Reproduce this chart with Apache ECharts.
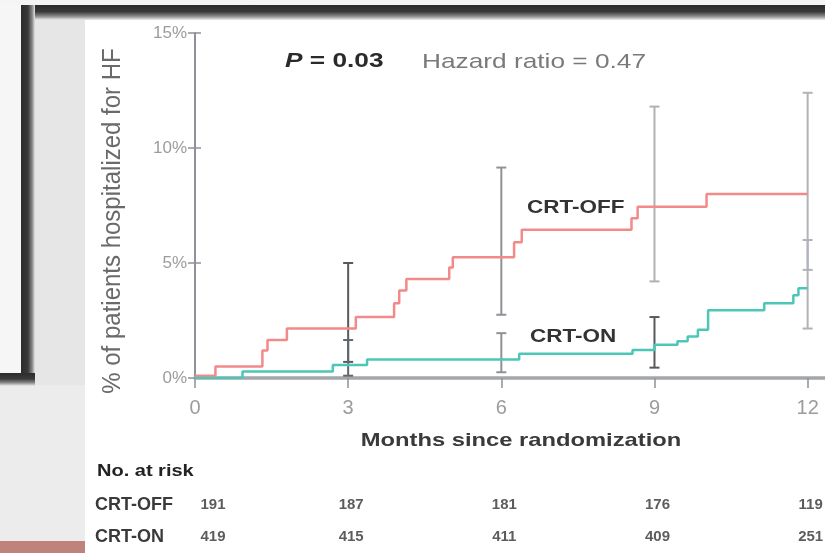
<!DOCTYPE html>
<html><head><meta charset="utf-8">
<script src="https://cdn.jsdelivr.net/npm/echarts@6/dist/echarts.min.js"></script>
<style>
html,body{margin:0;padding:0;background:#ececec;overflow:hidden}
.b{position:absolute}
#c{position:absolute;left:0;top:0;width:825px;height:553px}
</style>
</head><body>
<div class="b" style="left:0;top:0;width:825px;height:5px;background:#f5f5f5"></div>
<div class="b" style="left:85px;top:18px;width:740px;height:535px;background:#fff"></div>
<div class="b" style="left:35px;top:18px;width:50px;height:367px;background:#e6e6e6"></div>
<div class="b" style="left:0;top:5px;width:21px;height:368px;background:#f6f6f6"></div>
<div class="b" style="left:21px;top:5px;width:804px;height:15px;background:linear-gradient(to bottom,#2c2c2c 0%,#3a3a3a 45%,#8a8a8a 75%,#ececec 100%)"></div>
<div class="b" style="left:21px;top:5px;width:14px;height:380px;background:linear-gradient(to right,#2c2c2c 0%,#3a3a3a 50%,#8a8a8a 80%,#e6e6e6 100%)"></div>
<div class="b" style="left:0;top:373px;width:35px;height:13px;background:linear-gradient(to bottom,#2c2c2c 0%,#3a3a3a 45%,#8a8a8a 75%,#ececec 100%)"></div>
<div class="b" style="left:0;top:541px;width:85px;height:12px;background:#c0837c"></div>
<div id="c"></div>
<script>
// ---- data ----
const xTicks = [0, 3, 6, 9, 12];
const yTicks = [0, 5, 10, 15];
const offMonths = [0, 0.4, 1.32, 1.42, 1.8, 3.15, 3.9, 4.0, 4.14, 4.98, 5.05, 6.25, 6.4, 8.55, 8.67, 10.02, 12];
const offValues = [0.1, 0.5, 1.2, 1.65, 2.15, 2.65, 3.25, 3.8, 4.3, 4.8, 5.25, 5.9, 6.45, 6.95, 7.45, 8.0, 8.0];
const onMonths = [0, 0.93, 2.7, 3.37, 6.35, 8.57, 9.0, 9.45, 9.65, 9.85, 10.05, 11.15, 11.72, 11.82, 12];
const onValues = [0, 0.28, 0.57, 0.8, 1.05, 1.22, 1.45, 1.6, 1.8, 2.1, 2.95, 3.25, 3.6, 3.9, 3.9];
const ciMonths = [3, 6, 9, 12];
const offCiLow = [0.7, 2.75, 4.2, 4.7];
const offCiHigh = [5.0, 9.15, 11.8, 12.4];
const onCiLow = [0.1, 0.25, 0.45, 2.15];
const onCiHigh = [1.65, 1.95, 2.65, 6.0];
const riskMonths = [0, 3, 6, 9, 12];
const riskOff = [191, 187, 181, 176, 119];
const riskOn = [419, 415, 411, 409, 251];
const groups = ['CRT-ON', 'CRT-OFF'];

// ---- style ----
const FONT = '"Liberation Sans", Arial, Helvetica, sans-serif';
const OFF_BAR_COLORS = ['#555a5e', '#8e9296', '#aeb2b6', '#b0b4b8'];
const ON_BAR_COLORS = ['#62676b', '#8e9296', '#55595d', '#b0b4b8'];

function errRender(colors) {
  return function (params, api) {
    const x = api.value(0), lo = api.value(1), hi = api.value(2);
    const top = api.coord([x, hi]), bot = api.coord([x, lo]);
    const st = { stroke: colors[params.dataIndex], lineWidth: 2 };
    const hw = 5;
    return { type: 'group', children: [
      { type: 'line', shape: { x1: top[0], y1: top[1], x2: bot[0], y2: bot[1] }, style: st },
      { type: 'line', shape: { x1: top[0] - hw, y1: top[1], x2: top[0] + hw, y2: top[1] }, style: st },
      { type: 'line', shape: { x1: bot[0] - hw, y1: bot[1], x2: bot[0] + hw, y2: bot[1] }, style: st }
    ]};
  };
}

function riskData(name, vals) {
  return riskMonths.map((m, i) => ({ value: [m, name, vals[i]], label: { offset: [i === 0 ? 18 : 3, 0] } }));
}

const chart = echarts.init(document.getElementById('c'), null, { renderer: 'canvas' });
chart.setOption({
  animation: false,
  backgroundColor: 'transparent',
  grid: [
    { left: 195, right: 0, top: 33, bottom: 175 },
    { left: 195, right: 0, top: 489, bottom: 0 }
  ],
  xAxis: [
    { type: 'value', gridIndex: 0, min: 0, max: 12.34, interval: 3,
      axisLine: { show: true, onZero: false, lineStyle: { color: '#a4a7aa', width: 3.5 } },
      axisTick: { show: true, length: 10, customValues: xTicks, lineStyle: { color: '#8e9297', width: 1.5 } },
      axisLabel: { customValues: xTicks, margin: 20, fontSize: 20, color: '#9c9c9c', fontFamily: FONT },
      splitLine: { show: false } },
    { type: 'value', gridIndex: 1, min: 0, max: 12.34, show: false }
  ],
  yAxis: [
    { type: 'value', gridIndex: 0, min: 0, max: 15, interval: 5, position: 'left',
      axisLine: { show: true, lineStyle: { color: '#8e9297', width: 2 } },
      axisTick: { show: true, length: 7, customValues: yTicks, lineStyle: { color: '#8e9297', width: 1.5 } },
      axisLabel: { customValues: yTicks, formatter: '{value}%', margin: 8, fontSize: 17, color: '#9c9c9c', fontFamily: FONT },
      splitLine: { show: false } },
    { type: 'value', gridIndex: 0, min: 0, max: 15, interval: 5, position: 'left',
      axisLine: { show: false },
      axisTick: { show: true, inside: true, length: 6, lineStyle: { color: '#8e9297', width: 1.5 } },
      axisLabel: { show: false }, splitLine: { show: false } },
    { type: 'category', gridIndex: 1, data: groups,
      axisLine: { show: false }, axisTick: { show: false },
      axisLabel: { align: 'left', margin: 100, fontSize: 18, fontWeight: 'bold', color: '#3a3a3a', fontFamily: FONT } }
  ],
  series: [
    { type: 'custom', name: 'CRT-OFF CI', xAxisIndex: 0, yAxisIndex: 0, z: 1,
      renderItem: errRender(OFF_BAR_COLORS),
      data: ciMonths.map((m, i) => [m, offCiLow[i], offCiHigh[i]]) },
    { type: 'custom', name: 'CRT-ON CI', xAxisIndex: 0, yAxisIndex: 0, z: 1,
      renderItem: errRender(ON_BAR_COLORS),
      data: ciMonths.map((m, i) => [m, onCiLow[i], onCiHigh[i]]) },
    { type: 'line', name: 'CRT-OFF', xAxisIndex: 0, yAxisIndex: 0, step: 'end', showSymbol: false, z: 3,
      lineStyle: { color: '#f28a8a', width: 2.5 }, itemStyle: { color: '#f28a8a' },
      data: offMonths.map((m, i) => [m, offValues[i]]) },
    { type: 'line', name: 'CRT-ON', xAxisIndex: 0, yAxisIndex: 0, step: 'end', showSymbol: false, z: 3,
      lineStyle: { color: '#4cc7b7', width: 2.5 }, itemStyle: { color: '#4cc7b7' },
      data: onMonths.map((m, i) => [m, onValues[i]]) },
    { type: 'scatter', name: 'At risk CRT-OFF', xAxisIndex: 1, yAxisIndex: 2, symbolSize: 1,
      itemStyle: { color: 'rgba(0,0,0,0)' },
      label: { show: true, position: 'inside', formatter: p => String(p.value[2]), fontSize: 15, fontWeight: 'bold', color: '#333', fontFamily: FONT },
      data: riskData('CRT-OFF', riskOff) },
    { type: 'scatter', name: 'At risk CRT-ON', xAxisIndex: 1, yAxisIndex: 2, symbolSize: 1,
      itemStyle: { color: 'rgba(0,0,0,0)' },
      label: { show: true, position: 'inside', formatter: p => String(p.value[2]), fontSize: 15, fontWeight: 'bold', color: '#333', fontFamily: FONT },
      data: riskData('CRT-ON', riskOn) }
  ],
  graphic: [
    { type: 'text', x: 285, y: 61, scaleX: 1.25,
      style: { text: '{i|P} = 0.03', font: 'bold 21px ' + FONT, fill: '#2a2a2a', verticalAlign: 'middle',
        rich: { i: { fontStyle: 'italic', fontWeight: 'bold', fontSize: 21, fontFamily: FONT, fill: '#2a2a2a' } } } },
    { type: 'text', x: 422, y: 62, scaleX: 1.25,
      style: { text: 'Hazard ratio = 0.47', font: '21px ' + FONT, fill: '#7a7a7a', verticalAlign: 'middle' } },
    { type: 'text', x: 527, y: 208, scaleX: 1.25,
      style: { text: 'CRT-OFF', font: 'bold 18px ' + FONT, fill: '#333', verticalAlign: 'middle' } },
    { type: 'text', x: 530, y: 337, scaleX: 1.25,
      style: { text: 'CRT-ON', font: 'bold 18px ' + FONT, fill: '#333', verticalAlign: 'middle' } },
    { type: 'text', x: 521, y: 441, scaleX: 1.25,
      style: { text: 'Months since randomization', font: 'bold 19px ' + FONT, fill: '#3a3a3a', align: 'center', verticalAlign: 'middle' } },
    { type: 'text', x: 113, y: 221, rotation: Math.PI / 2, scaleY: 1.1,
      style: { text: '% of patients hospitalized for HF', font: '24px ' + FONT, fill: '#6a6a6a', align: 'center', verticalAlign: 'middle' } },
    { type: 'text', x: 97, y: 472, scaleX: 1.25,
      style: { text: 'No. at risk', font: 'bold 16px ' + FONT, fill: '#222', verticalAlign: 'middle' } }
  ]
});
</script>
</body></html>
